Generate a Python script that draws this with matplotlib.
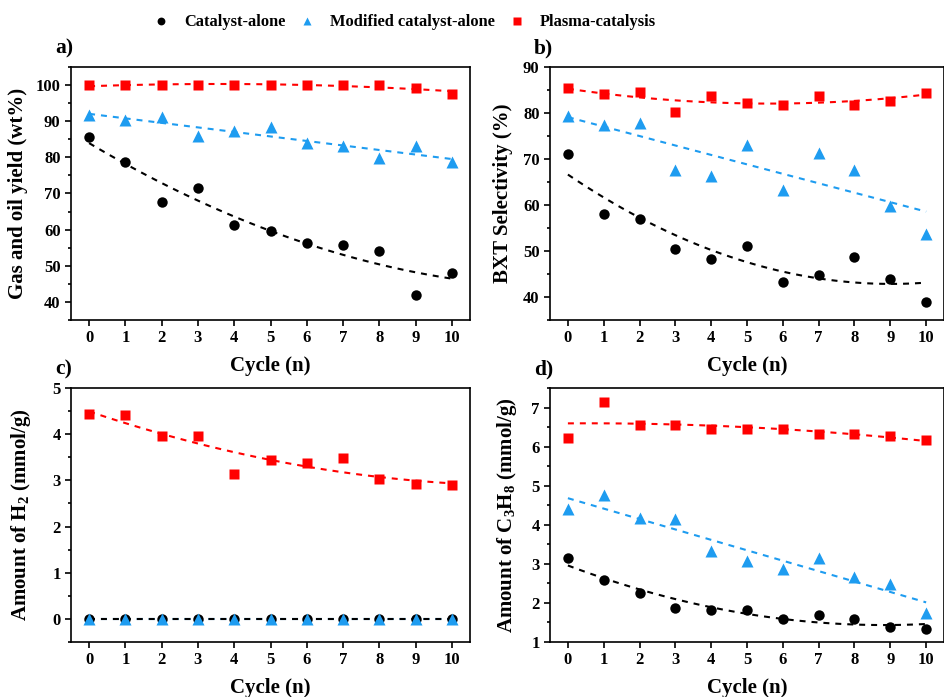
import matplotlib
matplotlib.use("Agg")
import matplotlib.pyplot as plt
from matplotlib.ticker import MultipleLocator
from matplotlib.lines import Line2D
import numpy as np

plt.rcParams['font.family'] = ['Liberation Serif', 'DejaVu Serif']
plt.rcParams['font.weight'] = 'bold'
plt.rcParams['axes.labelweight'] = 'bold'
plt.rcParams['mathtext.fontset'] = 'custom'
plt.rcParams['mathtext.rm'] = 'Liberation Serif:bold'
plt.rcParams['mathtext.it'] = 'Liberation Serif:bold'
plt.rcParams['mathtext.bf'] = 'Liberation Serif:bold'
plt.rcParams['lines.scale_dashes'] = False

# ---------------- data ----------------
cycles = np.arange(0, 11)

# a) gas and oil yield (wt%)
yield_cat = [85.7, 78.7, 67.7, 71.4, 61.2, 59.7, 56.3, 55.7, 54.2, 41.9, 48.0]
yield_mod = [91.7, 90.3, 91.2, 86.0, 87.4, 88.5, 83.9, 83.0, 79.9, 83.0, 78.7]
yield_pla = [100.0, 100.0, 100.0, 100.0, 100.0, 100.0, 100.0, 100.0, 100.0, 99.3, 97.5]

# b) BXT selectivity (%)
bxt_cat = [71.0, 58.1, 57.0, 50.4, 48.3, 51.1, 43.3, 44.7, 48.6, 43.9, 39.0]
bxt_mod = [79.3, 77.4, 77.9, 67.7, 66.3, 73.1, 63.2, 71.3, 67.5, 59.7, 53.7]
bxt_pla = [85.4, 84.1, 84.5, 80.2, 83.6, 82.1, 81.8, 83.7, 81.8, 82.6, 84.4]

# c) H2 (mmol/g)
h2_cat = [0.0] * 11
h2_mod = [0.0] * 11
h2_pla = [4.44, 4.41, 3.96, 3.96, 3.13, 3.45, 3.37, 3.49, 3.04, 2.93, 2.89]

# d) C3H8 (mmol/g)
c3_cat = [3.15, 2.58, 2.25, 1.87, 1.83, 1.81, 1.60, 1.69, 1.59, 1.38, 1.33]
c3_mod = [4.40, 4.76, 4.18, 4.15, 3.33, 3.07, 2.87, 3.16, 2.66, 2.49, 1.75]
c3_pla = [6.23, 7.14, 6.55, 6.55, 6.46, 6.45, 6.45, 6.32, 6.32, 6.26, 6.17]

series_names = ["Catalyst-alone", "Modified catalyst-alone", "Plasma-catalysis"]
colors = ["black", "#1E9CF0", "#FF0000"]
markers = ["o", "^", "s"]
msizes = [7.5, 8.5, 7]
fit_deg = [2, 1, 2]

panels = [
    dict(data=[yield_cat, yield_mod, yield_pla], ylabel="Gas and oil yield (wt%)",
         ylim=(35, 105), major=10, minor=5, tag="a)", pos=[0.0751, 0.5409, 0.4223, 0.3630],
         labx=-0.108),
    dict(data=[bxt_cat, bxt_mod, bxt_pla], ylabel="BXT Selectivity (%)",
         ylim=(35, 90), major=10, minor=5, tag="b)", pos=[0.582, 0.5409, 0.417, 0.3630],
         labx=-0.094),
    dict(data=[h2_cat, h2_mod, h2_pla], ylabel="Amount of H$_2$ (mmol/g)",
         ylim=(-0.5, 5), major=1, minor=0.5, tag="c)", pos=[0.0751, 0.0789, 0.4223, 0.3644],
         labx=-0.095),
    dict(data=[c3_cat, c3_mod, c3_pla], ylabel="Amount of C$_3$H$_8$ (mmol/g)",
         ylim=(1, 7.5), major=1, minor=0.5, tag="d)", pos=[0.582, 0.0789, 0.417, 0.3644],
         labx=-0.078),
]

fig = plt.figure(figsize=(9.45, 6.97), dpi=100)

xfit = np.linspace(0, 10, 100)
for p in panels:
    ax = fig.add_axes(p["pos"])
    # fits drawn in reverse so the black one stays on top where they overlap
    for i in [2, 1, 0]:
        y = p["data"][i]
        coef = np.polyfit(cycles, y, fit_deg[i])
        ax.plot(xfit, np.polyval(coef, xfit), color=colors[i], lw=1.5,
                dashes=(4.3, 4.3), zorder=2)
    for i, y in enumerate(p["data"]):
        ax.plot(cycles, y, linestyle="none", marker=markers[i], ms=msizes[i],
                color=colors[i], mec="none", zorder=3 + i)
    ax.set_xlim(-0.5, 10.5)
    ax.set_ylim(*p["ylim"])
    ax.set_xticks(cycles)
    ax.yaxis.set_major_locator(MultipleLocator(p["major"]))
    ax.yaxis.set_minor_locator(MultipleLocator(p["minor"]))
    ax.tick_params(axis="both", which="major", direction="out", length=4, width=1.2,
                   labelsize=12, top=False, right=False)
    ax.tick_params(axis="y", which="minor", direction="out", length=2.2, width=1.2,
                   right=False)
    for lab in ax.get_xticklabels() + ax.get_yticklabels():
        lab.set_fontweight("bold")
    for s in ax.spines.values():
        s.set_linewidth(1.2)
    ax.set_xlabel("Cycle (n)", fontsize=15, fontweight="bold", labelpad=7)
    ax.set_ylabel(p["ylabel"], fontsize=15, fontweight="bold")
    ax.yaxis.set_label_coords(p["labx"], 0.5)
    bb = p["pos"]
    fig.text(bb[0] - 0.017, bb[1] + bb[3] + 0.027, p["tag"], fontsize=15.5,
             fontweight="bold", va="center", ha="left")

handles = [Line2D([], [], linestyle="none", marker=markers[i], ms=msizes[i] * 0.75,
                  color=colors[i], mec="none") for i in range(3)]
fig.legend(handles, series_names, loc="center", bbox_to_anchor=(0.428, 0.968),
           ncol=3, frameon=False, prop=dict(size=11.8, weight="bold"),
           handlelength=1.0, handletextpad=0.9, columnspacing=0.85)

fig.savefig("out.png", dpi=100)
